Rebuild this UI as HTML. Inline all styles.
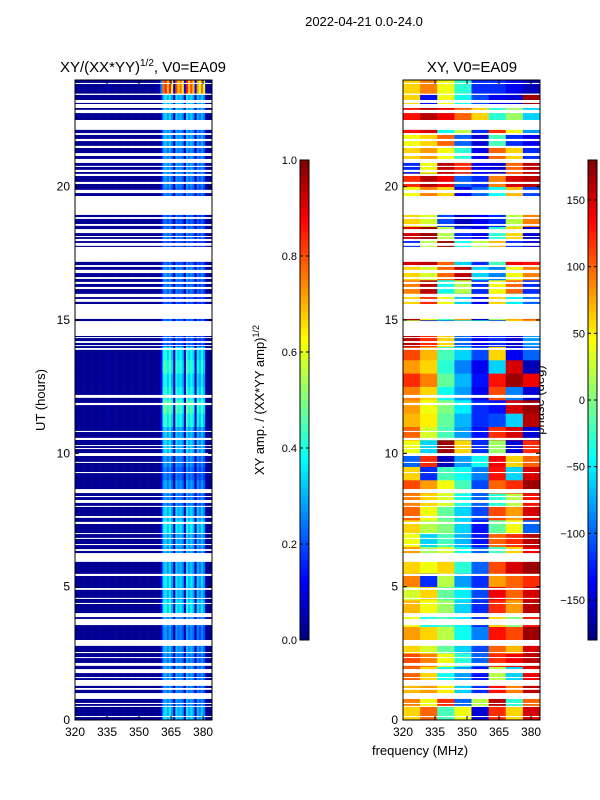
<!DOCTYPE html>
<html><head><meta charset="utf-8"><style>
body{margin:0;background:#fff;}
svg{display:block;font-family:"Liberation Sans","DejaVu Sans",sans-serif;}
</style></head><body>
<svg id="fig" width="600" height="800" viewBox="0 0 600 800" xmlns="http://www.w3.org/2000/svg">
<rect width="600" height="800" fill="#fff"/>
<text x="364" y="26" font-size="13" text-anchor="middle">2022-04-21 0.0-24.0</text>
<text x="143" y="72" font-size="15" text-anchor="middle">XY/(XX*YY)<tspan font-size="10" dy="-6">1/2</tspan><tspan dy="6">, V0=EA09</tspan></text>
<text x="472" y="72" font-size="15" text-anchor="middle">XY, V0=EA09</text>
<text x="420" y="755" font-size="13" text-anchor="middle">frequency (MHz)</text>
<text transform="translate(45,400) rotate(-90)" font-size="13" text-anchor="middle">UT (hours)</text>
<text transform="translate(264,400) rotate(-90)" font-size="13" text-anchor="middle">XY amp. / (XX*YY amp)<tspan font-size="9" dy="-5">1/2</tspan></text>
<text transform="translate(544,400) rotate(-90)" font-size="13" text-anchor="middle">phase (deg)</text>
<g id="left"></g>
<g id="right"></g>
<g id="cb"></g>
<g id="axes"></g>
</svg>
<script>
const gaps=[[23.85,23.89],[23.44,23.49],[23.14,23.25],[22.95,23.10],[22.76,22.88],[22.13,22.50],[21.94,22.01],[21.71,21.79],[21.45,21.53],[21.15,21.26],[20.89,21.04],[20.74,20.78],[20.55,20.63],[20.40,20.48],[20.10,20.18],[19.76,19.88],[18.94,19.65],[18.79,18.86],[18.53,18.60],[18.26,18.41],[18.11,18.15],[17.96,18.04],[17.78,17.89],[17.18,17.74],[16.99,17.06],[16.76,16.88],[16.54,16.61],[16.35,16.43],[16.16,16.24],[15.86,15.98],[15.68,15.79],[15.04,15.60],[14.40,14.96],[14.33,14.36],[14.14,14.21],[14.03,14.06],[13.88,13.95],[12.08,12.19],[11.81,11.89],[10.80,10.84],[10.50,10.58],[10.28,10.31],[10.16,10.20],[9.90,10.01],[9.64,9.68],[9.26,9.30],[8.51,8.66],[8.36,8.40],[8.14,8.25],[7.99,8.03],[7.58,7.65],[7.35,7.43],[6.98,7.01],[6.79,6.83],[6.56,6.60],[6.34,6.41],[5.93,6.26],[5.40,5.48],[4.88,4.95],[4.54,4.58],[4.35,4.39],[3.86,4.01],[3.56,3.79],[2.78,3.00],[2.51,2.55],[2.33,2.36],[2.03,2.14],[1.76,1.91],[1.58,1.61],[1.28,1.50],[1.13,1.20],[0.79,1.01],[0.60,0.64],[0.49,0.53],[0.11,0.15]];
const colAmp=[0.02,0.02,0.02,0.02,0.02,0.02,0.02,0.02,0.02,0.02,0.02,0.02,0.02,0.02,0.02,0.08,0.02,0.02,0.02,0.02,0.02,0.02,0.02,0.02,0.02,0.02,0.02,0.02,0.02,0.02,0.02,0.02,0.02,0.02,0.02,0.02,0.02,0.03,0.04,0.05,0.3,0.9,1.0,0.8,1.0,0.75,0.12,0.95,0.8,0.9,0.75,0.15,1.0,0.8,0.95,0.8,0.15,0.85,0.7,0.9,0.7,0.05,0.03,0.03];
const rowGain=[0.36,0.3,0.28,0.3,0.29,0.32,0.28,0.3,0.4,0.36,0.38,0.34,0.32,0.34,0.4,0.36,0.28,0.3,0.26,0.29,0.36,0.34,0.44,0.5,0.44,0.4,0.46,0.42,0.24,0.26,0.24,0.22,0.26,0.28,0.24,0.22,0.26,0.24,0.24,0.26,0.28,0.3,0.29,0.32,0.3,0.34,0.36,0.85];
const phase=[[60,100,-20,40,-150,120,60,150],[90,40,120,-100,20,160,-30,100],[70,80,50,-60,-120,130,90,160],[100,60,-40,-80,-130,20,-60,140],[110,90,40,-30,-100,120,140,160],[60,30,-10,-60,-110,100,70,150],[80,60,20,-40,-90,130,110,170],[40,-40,-20,-50,-120,60,0,130],[70,40,10,-60,-120,120,80,160],[30,60,-10,-50,-110,140,100,150],[90,-120,20,-80,-120,80,100,120],[60,40,60,-30,-100,110,150,170],[80,10,30,-40,-100,-20,60,140],[40,-60,-20,-70,-130,100,120,160],[60,20,0,-60,-130,-10,40,-100],[100,40,-10,-60,-110,110,80,150],[90,60,30,-40,-100,-30,20,130],[110,80,40,-20,-110,100,120,170],[60,-120,-20,-40,-90,130,-60,150],[-100,120,-160,-80,-40,140,60,100],[40,-60,170,60,-120,10,-150,120],[100,30,-20,-80,-130,120,150,-150],[70,50,-10,-70,-120,-110,-60,160],[80,40,0,-50,-120,-130,150,170],[90,60,-40,-80,-140,110,-90,-150],[120,90,-10,-70,-130,130,170,140],[80,60,-30,-90,-140,-60,150,-160],[110,70,-20,-60,-110,60,-140,-100],[160,120,60,-100,-140,-120,-150,-80],[20,-140,-100,-60,-30,-120,60,80],[160,40,-20,80,-150,10,70,100],[60,120,40,-60,-140,60,-50,-100],[90,160,-40,20,-120,40,100,-120],[60,30,100,160,-60,-90,40,90],[150,160,100,-60,-120,-20,140,130],[-120,20,170,-40,20,70,-120,-150],[150,170,20,-120,-140,-30,60,-150],[60,30,-110,-160,-140,-120,20,90],[100,70,-40,-150,-100,-10,10,-120],[40,90,60,-140,-100,-40,70,-110],[120,160,140,-100,-120,90,150,160],[-120,40,160,120,-140,-150,100,160],[60,80,40,-30,-140,100,60,-120],[40,60,100,-100,-150,-20,-120,-140],[130,150,-40,20,-120,120,40,-80],[130,160,140,100,60,-30,10,-60],[60,-130,40,-40,-110,-140,-150,170],[60,90,40,-30,-120,-120,-140,-160]];
const xTicks=[320,335,350,365,380];
const yTicks=[0,5,10,15,20];
const ampTicks=[0.0,0.2,0.4,0.6,0.8,1.0];
const phTicks=[-150,-100,-50,0,50,100,150];

const NS='http://www.w3.org/2000/svg';
const F0=320,F1=384.2,T0=0,T1=24,Y0=720,Y1=80;
const panels=[{x0:75,x1:212,g:'left'},{x0:403,x1:540,g:'right'}];
function yS(t){return Y0-(t-T0)/(T1-T0)*(Y0-Y1);}
function xS(p,f){return p.x0+(f-F0)/(F1-F0)*(p.x1-p.x0);}
function jet(v){v=Math.max(0,Math.min(1,v));
 const c=x=>Math.round(255*Math.max(0,Math.min(1,x)));
 return `rgb(${c(1.5-Math.abs(4*v-3))},${c(1.5-Math.abs(4*v-2))},${c(1.5-Math.abs(4*v-1))})`;}
function mk(tag,at,parent){const e=document.createElementNS(NS,tag);for(const k in at)e.setAttribute(k,at[k]);parent.appendChild(e);return e;}

const gl=document.getElementById('left');
const pL=panels[0];
for(let r=0;r<rowGain.length;r++){
 const ta=r*0.5,tb=ta+0.5;
 for(let c=0;c<colAmp.length;c++){
  const e=mk('rect',{x:xS(pL,F0+c).toFixed(2),y:yS(tb).toFixed(2),width:(xS(pL,F0+c+1)-xS(pL,F0+c)+0.3).toFixed(2),height:(yS(ta)-yS(tb)+0.3).toFixed(2),fill:jet(Math.max(0.02,colAmp[c]*rowGain[r]))},gl);
  
  
 }
}
const gr=document.getElementById('right');
const pR=panels[1];
const cw=(F1-F0)/8;
for(let r=0;r<phase.length;r++){
 const ta=r*0.5,tb=ta+0.5;
 for(let c=0;c<8;c++){
  const e=mk('rect',{x:xS(pR,F0+c*cw).toFixed(2),y:yS(tb).toFixed(2),width:(xS(pR,F0+(c+1)*cw)-xS(pR,F0+c*cw)+0.3).toFixed(2),height:(yS(ta)-yS(tb)+0.3).toFixed(2),fill:jet((phase[r][c]+180)/360)},gr);
  
  
 }
}
for(const p of panels){
 const g=document.getElementById(p.g);
 for(const [a,b] of gaps){
  const e=mk('rect',{x:p.x0,y:yS(b).toFixed(2),width:p.x1-p.x0,height:Math.max(1,yS(a)-yS(b)).toFixed(2),fill:'#fff'},g);
  
  
 }
}
const ax=document.getElementById('axes');
panels.forEach((p,i)=>{
 const fr=mk('rect',{x:p.x0,y:Y1,width:p.x1-p.x0,height:Y0-Y1,fill:'none',stroke:'#000','stroke-width':1},ax);
 
 
 xTicks.forEach(f=>{
  const x=xS(p,f);
  mk('line',{x1:x,x2:x,y1:Y0,y2:Y0-4,stroke:'#000'},ax);
  mk('line',{x1:x,x2:x,y1:Y1,y2:Y1+4,stroke:'#000'},ax);
  const t=mk('text',{x:x,y:Y0+16,'font-size':12,'text-anchor':'middle'},ax);
  t.textContent=f;
  
  
 });
 yTicks.forEach(v=>{
  const y=yS(v);
  mk('line',{x1:p.x0,x2:p.x0+4,y1:y,y2:y,stroke:'#000'},ax);
  mk('line',{x1:p.x1,x2:p.x1-4,y1:y,y2:y,stroke:'#000'},ax);
  const t=mk('text',{x:p.x0-5,y:y+4,'font-size':12,'text-anchor':'end'},ax);
  t.textContent=v;
  
  
 });
});
const cb=document.getElementById('cb');
const CB0=640,CB1=160;
function bar(x,ticks,vmin,vmax,name){
 const n=120,h=(CB0-CB1)/n;
 for(let i=0;i<n;i++){
  mk('rect',{x:x,y:(CB0-(i+1)*h).toFixed(2),width:9,height:(h+0.3).toFixed(2),fill:jet((i+0.5)/n)},cb);
 }
 const fr=mk('rect',{x:x,y:CB1,width:9,height:CB0-CB1,fill:'none',stroke:'#000'},cb);
 
 
 ticks.forEach(v=>{
  const y=CB0-(v-vmin)/(vmax-vmin)*(CB0-CB1);
  mk('line',{x1:x,x2:x+3,y1:y,y2:y,stroke:'#000'},cb);
  mk('line',{x1:x+9,x2:x+6,y1:y,y2:y,stroke:'#000'},cb);
  const t=mk('text',{x:x-3,y:y+4,'font-size':11,'text-anchor':'end'},cb);
  t.textContent=(vmax===1)?v.toFixed(1):(v<0?'\u2212'+(-v):v);
  
  
 });
}
bar(300,ampTicks,0,1,'amp-colorbar');
bar(588,phTicks,-180,180,'phase-colorbar');
</script>
</body></html>
